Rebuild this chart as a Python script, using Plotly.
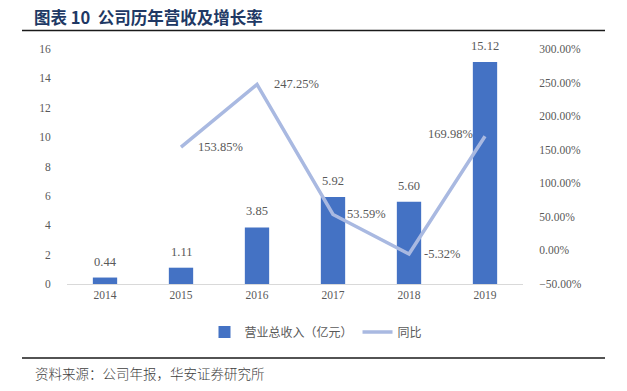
import plotly.graph_objects as go

years = ["2014", "2015", "2016", "2017", "2018", "2019"]
revenue = [0.44, 1.11, 3.85, 5.92, 5.60, 15.12]
growth = [None, 153.85, 247.25, 53.59, -5.32, 169.98]
bar_name = "营业总收入（亿元）"
line_name = "同比"
title_text = "图表 10  公司历年营收及增长率"
source_text = "资料来源：公司年报，华安证券研究所"

W, H = 627, 391
L, R, T, B = 67, 523, 49, 284  # plot area in px


def px_x(px):
    return (px - L) / (R - L)


def px_y(py):
    return (B - py) / (B - T)


num_font = dict(family="Liberation Serif, Times New Roman, serif", size=12.5, color="#595959")
tick_font = dict(family="Liberation Serif, Times New Roman, serif", size=11.5, color="#595959")

fig = go.Figure()
fig.add_trace(go.Bar(
    x=years, y=revenue, name=bar_name, marker=dict(color="#4472C4", line=dict(width=0)),
    yaxis="y", width=0.32,
))
fig.add_trace(go.Scatter(
    x=years, y=growth, name=line_name, mode="lines",
    line=dict(color="#A9B9E1", width=3.5), yaxis="y2",
))

annotations = []
for i, v in enumerate(revenue):
    annotations.append(dict(x=i, y=v, xref="x", yref="y", text=f"{v:.2f}",
                            showarrow=False, yanchor="middle", yshift=16, font=num_font))
offsets = [0, 15, 15, 12, 13, -10]
for i, v in enumerate(growth):
    if v is None:
        continue
    xs = offsets[i]
    annotations.append(dict(x=i, y=v, xref="x", yref="y2", text=f"{v:.2f}%",
                            showarrow=False, xanchor="left" if xs > 0 else "right",
                            xshift=xs, yanchor="middle", yshift=2 if i == 5 else 0,
                            font=num_font))

annotations.append(dict(x=px_x(32), y=px_y(17), xref="paper", yref="paper", text=f"<b>{title_text}</b>",
                        showarrow=False, xanchor="left", yanchor="middle",
                        font=dict(family="Noto Sans CJK SC", size=16.5, color="#203864")))
annotations.append(dict(x=px_x(33), y=px_y(373), xref="paper", yref="paper", text=source_text,
                        showarrow=False, xanchor="left", yanchor="middle",
                        font=dict(family="Noto Sans CJK SC", size=13.5, color="#404040", weight=300)))

shapes = [
    dict(type="line", xref="paper", yref="paper", x0=px_x(22), x1=px_x(605), y0=px_y(30.5), y1=px_y(30.5),
         line=dict(color="#1a1a1a", width=1.5)),
    dict(type="line", xref="paper", yref="paper", x0=px_x(22), x1=px_x(605), y0=px_y(358), y1=px_y(358),
         line=dict(color="#1a1a1a", width=1.5)),
]

fig.update_layout(
    width=W, height=H,
    margin=dict(l=L, r=W - R, t=T, b=H - B, autoexpand=False),
    paper_bgcolor="white", plot_bgcolor="white",
    showlegend=True,
    legend=dict(orientation="h", x=px_x(316), xanchor="center", y=px_y(332), yanchor="middle",
                font=dict(family="Noto Sans CJK SC", size=12, color="#595959"),
                itemwidth=30, tracegroupgap=0),
    xaxis=dict(type="category", showline=True, linecolor="#D9D9D9", linewidth=1, ticks="",
               showgrid=False, tickfont=tick_font, range=[-0.5, 5.5]),
    yaxis=dict(range=[0, 16], dtick=2, showgrid=False, zeroline=False, showline=False,
               tickfont=tick_font, ticks="outside", ticklen=13, tickcolor="rgba(0,0,0,0)"),
    yaxis2=dict(range=[-50, 300], dtick=50, overlaying="y", side="right", showgrid=False,
                zeroline=False, showline=False, tickformat=".2f", ticksuffix="%",
                tickfont=tick_font, ticks="outside", ticklen=13, tickcolor="rgba(0,0,0,0)"),
    annotations=annotations,
    shapes=shapes,
    bargap=0.68,
)

fig.write_html("out.html", config={"displayModeBar": False},
               post_script="document.body.style.margin='0';document.body.style.overflow='hidden';")
